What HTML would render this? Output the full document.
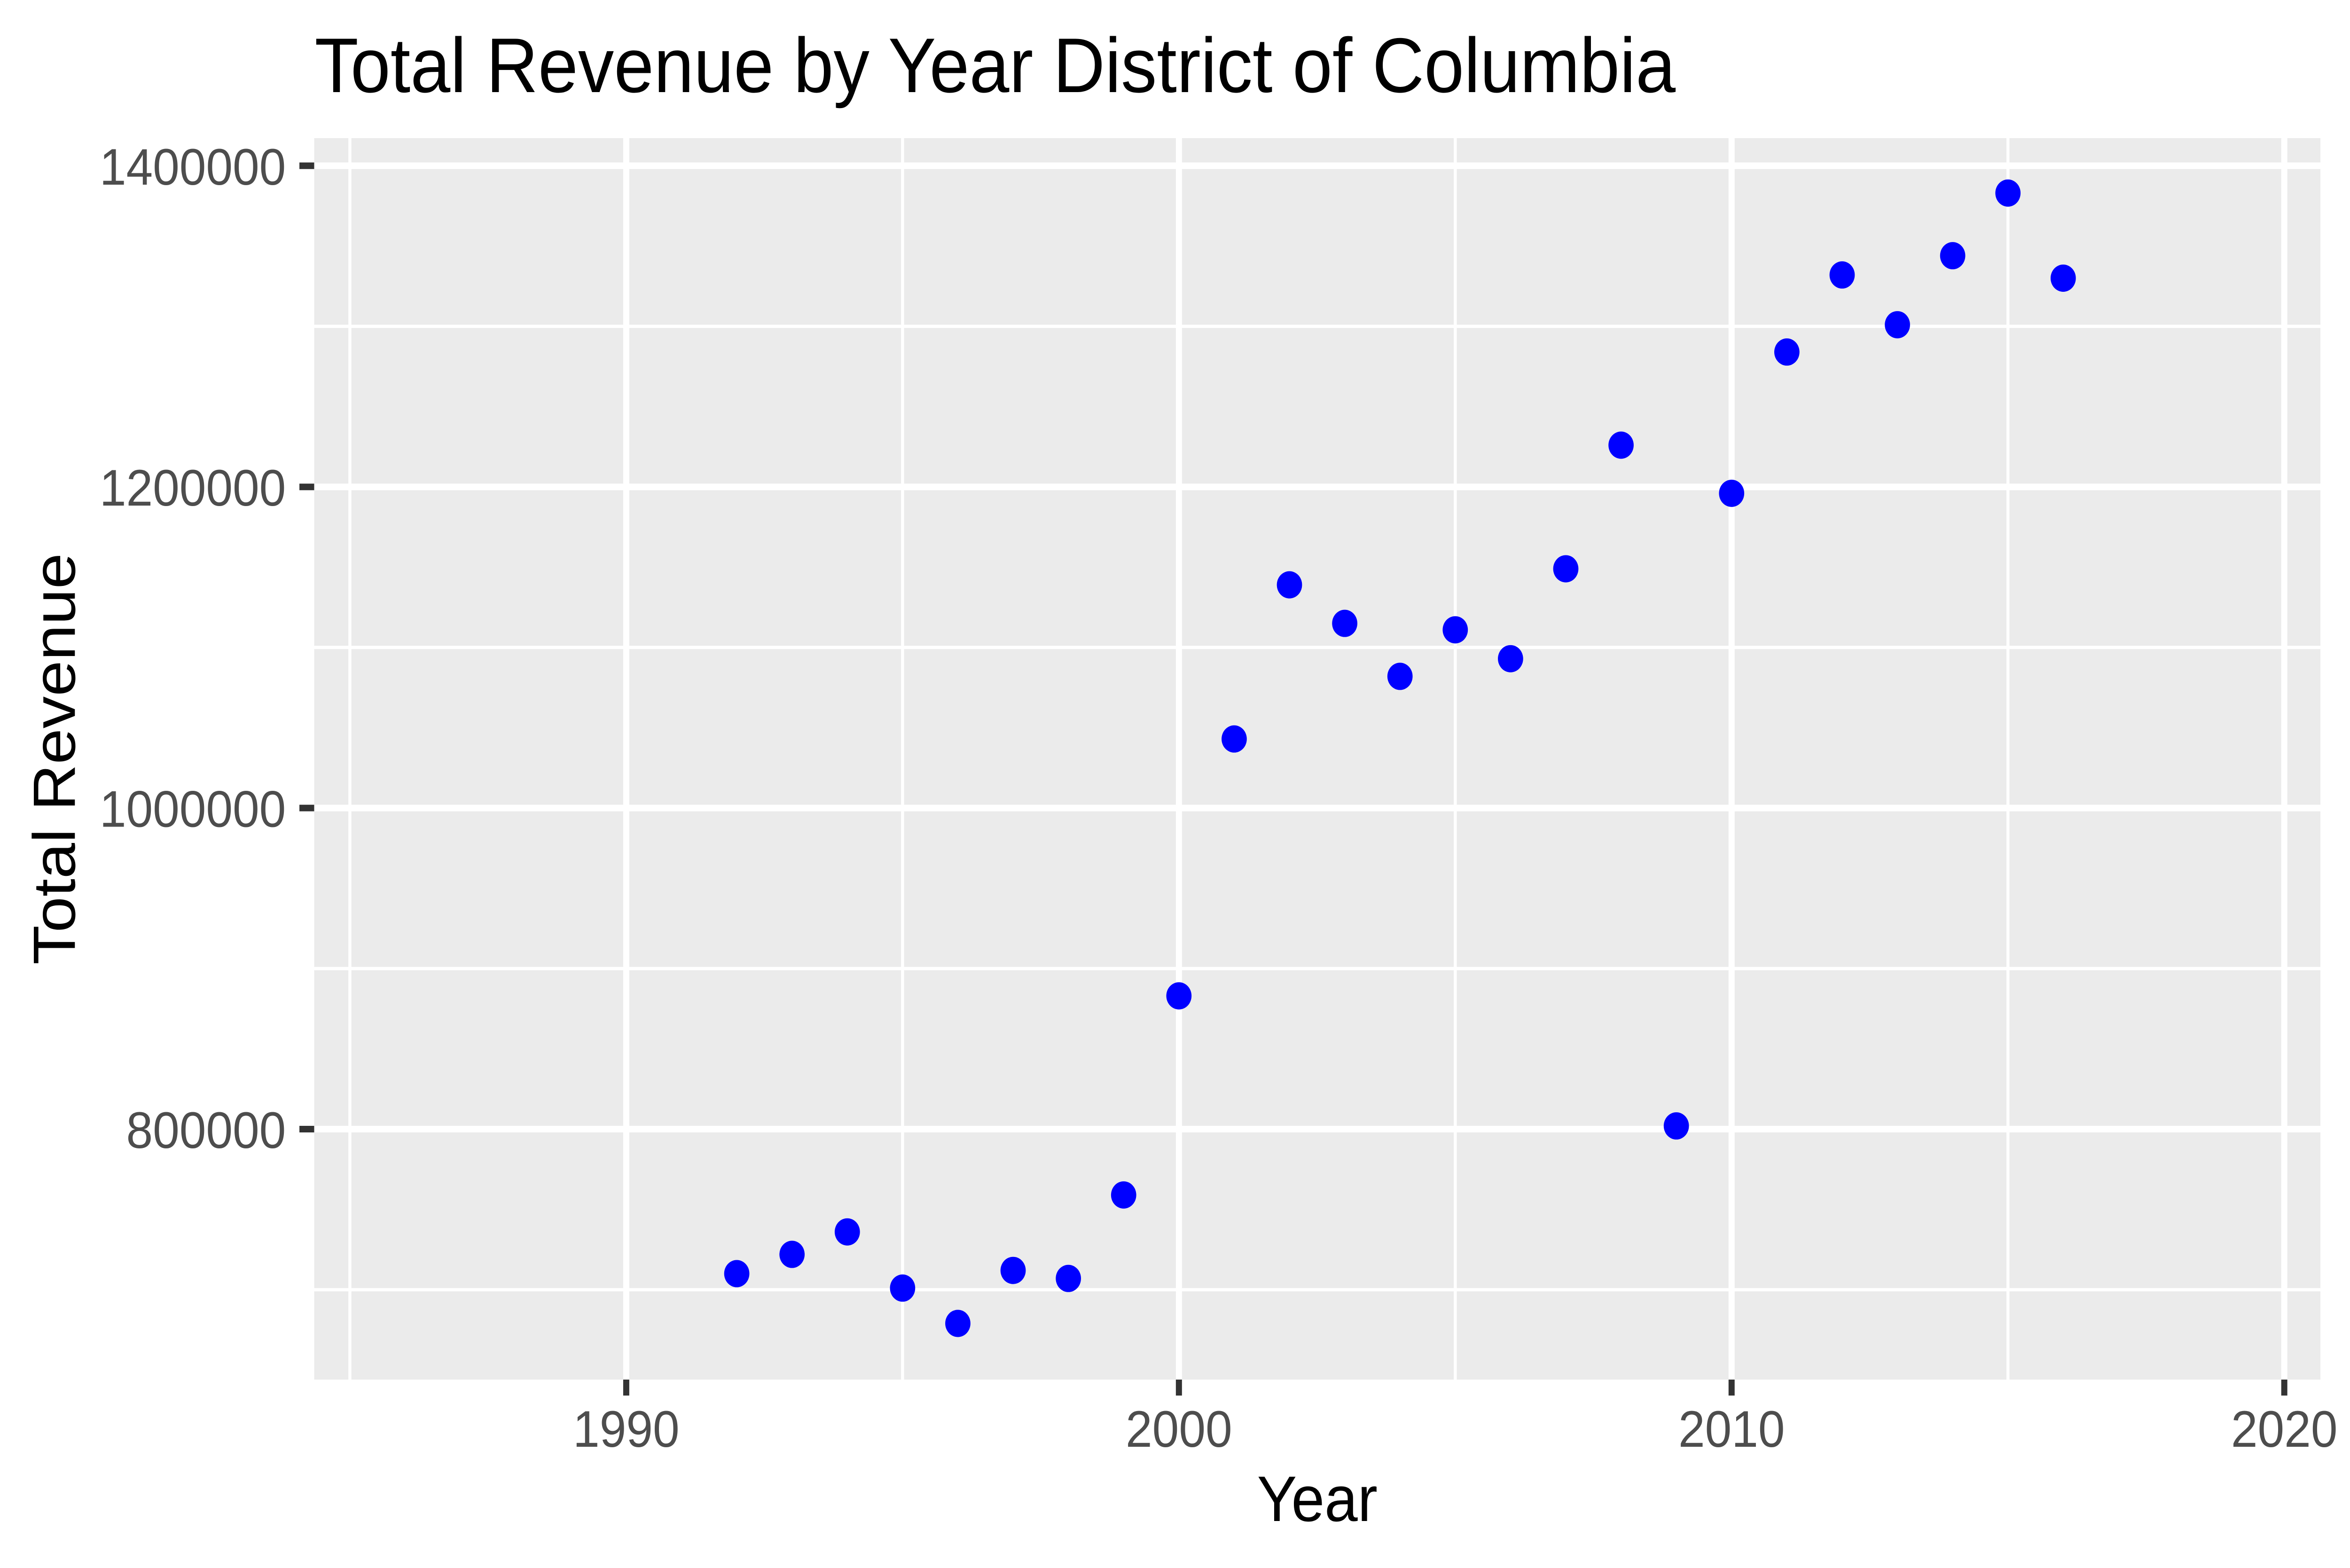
<!DOCTYPE html>
<html><head><meta charset="utf-8"><style>html,body{margin:0;padding:0;background:#fff;overflow:hidden;width:100vw;height:100vh}svg{display:block;width:100vw;height:100vh}</style></head>
<body>
<svg id="chart" viewBox="0 0 5400 3337" preserveAspectRatio="none" xmlns="http://www.w3.org/2000/svg" font-family="'Liberation Sans', Arial, sans-serif">
<rect width="5400" height="3337" fill="#fff"/>
<text x="723" y="196" font-size="165" fill="#000">Total Revenue by Year District of Columbia</text>
<rect x="722" y="294" width="4610" height="2642" fill="#EBEBEB"/>
<g id="grid"></g>
<g id="axes"></g>
<g id="points"></g>
<text x="3027" y="3237" font-size="137" text-anchor="middle" fill="#000">Year</text>
<text transform="translate(172,1615) rotate(-90)" font-size="137" text-anchor="middle" fill="#000">Total Revenue</text>
</svg>
<script>
const years = [1992,1993,1994,1995,1996,1997,1998,1999,2000,2001,2002,2003,2004,2005,2006,2007,2008,2009,2010,2011,2012,2013,2014,2015,2016];
const revenue = [710000,722000,736000,701000,679000,712000,707000,759000,883000,1043000,1139000,1115000,1082000,1111000,1093000,1149000,1226000,802000,1196000,1284000,1332000,1301000,1344000,1383000,1330000];
const xMajor = [1990,2000,2010,2020];
const xMinor = [1985,1995,2005,2015];
const yMajor = [800000,1000000,1200000,1400000];
const yMinor = [700000,900000,1100000,1300000];
const xTickLabels = ["1990","2000","2010","2020"];
const yTickLabels = ["800000","1000000","1200000","1400000"];

const NS = "http://www.w3.org/2000/svg";
const PL = 722, PR = 5332, PT = 294, PB = 2936;
function xs(v){ return 1439 + (v - 1990) * 127; }
function ys(v){ return 2403 - (v - 800000) / 100000 * 341.7; }
function mk(tag, attrs, parent){
  const e = document.createElementNS(NS, tag);
  for (const k in attrs) e.setAttribute(k, attrs[k]);
  parent.appendChild(e); return e;
}
const grid = document.getElementById('grid');
const axes = document.getElementById('axes');
const pts = document.getElementById('points');

xMinor.forEach(v => {
  const l = mk('line', {x1: xs(v), x2: xs(v), y1: PT, y2: PB, stroke: '#fff', 'stroke-width': 7}, grid);
  
  
});
yMinor.forEach(v => {
  const l = mk('line', {x1: PL, x2: PR, y1: ys(v), y2: ys(v), stroke: '#fff', 'stroke-width': 7}, grid);
  
  
});
xMajor.forEach((v, i) => {
  const l = mk('line', {x1: xs(v), x2: xs(v), y1: PT, y2: PB, stroke: '#fff', 'stroke-width': 14}, grid);
  
  
  const t = mk('line', {x1: xs(v), x2: xs(v), y1: PB, y2: PB + 34, stroke: '#333', 'stroke-width': 14}, axes);
  
  
  const tx = mk('text', {x: xs(v), y: 3079, 'font-size': 110, fill: '#4D4D4D', 'text-anchor': 'middle'}, axes);
  tx.textContent = xTickLabels[i];
  
  
});
yMajor.forEach((v, i) => {
  const l = mk('line', {x1: PL, x2: PR, y1: ys(v), y2: ys(v), stroke: '#fff', 'stroke-width': 14}, grid);
  
  
  const t = mk('line', {x1: PL - 34, x2: PL, y1: ys(v), y2: ys(v), stroke: '#333', 'stroke-width': 14}, axes);
  
  
  const tx = mk('text', {x: 657, y: ys(v) + 40, 'font-size': 110, fill: '#4D4D4D', 'text-anchor': 'end'}, axes);
  tx.textContent = yTickLabels[i];
  
  
});
years.forEach((yr, i) => {
  const c = mk('circle', {cx: xs(yr), cy: ys(revenue[i]), r: 29, fill: '#0000FF'}, pts);
  
  
});
</script>
</body></html>
